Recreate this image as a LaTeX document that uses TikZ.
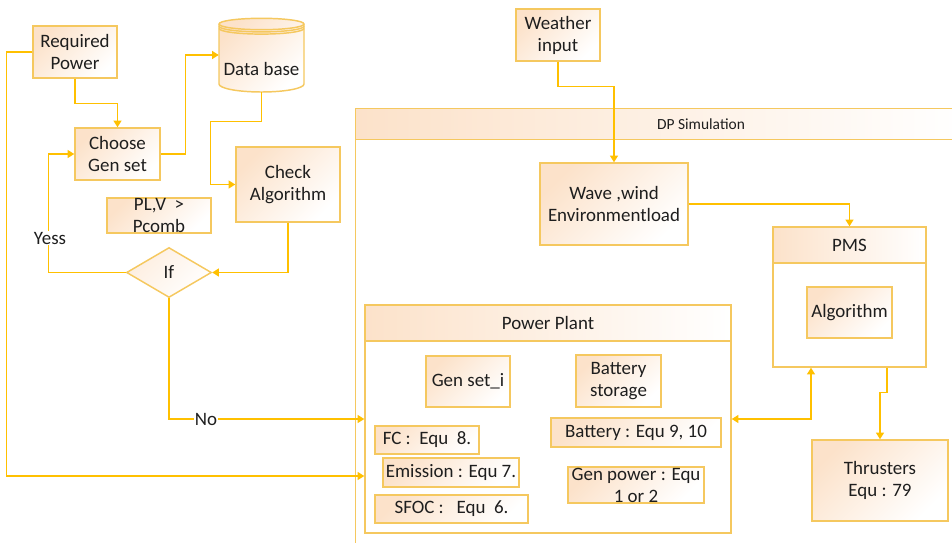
\documentclass[tikz,border=0pt]{standalone}
\usepackage{fontspec}
\setmainfont{Carlito}
\usetikzlibrary{arrows.meta,calc,shapes.geometric}

\definecolor{boxline}{RGB}{245,200,95}
\definecolor{wirecol}{RGB}{255,192,0}
\definecolor{peach}{RGB}{252,226,202}
\definecolor{ink}{RGB}{30,30,30}
\newcommand\dpfont{\fontsize{14.2}{16.5}\selectfont}
\newcommand\dpsmall{\fontsize{11.6}{13}\selectfont}

\tikzset{
  sz/.style 2 args={minimum width=#1*0.75pt, minimum height=#2*0.75pt},
  block/.style={draw=boxline, line width=1.1pt, top color=peach, bottom color=white, shading angle=45, inner sep=1pt, align=center, text=ink, font=\dpfont},
  frame/.style={draw=boxline, line width=1.1pt, fill=white, inner sep=0pt},
  head/.style={draw=boxline, line width=1.1pt, left color=peach, right color=white, inner sep=0pt, text=ink, font=\dpfont},
  wire/.style={draw=wirecol, line width=1pt, -{Triangle[width=6pt,length=5pt]}},
  tag/.style={fill=white, inner sep=1pt, text=ink, font=\dpfont},
}

\begin{document}
\begin{tikzpicture}[x=0.75pt,y=0.75pt,yscale=-1,xscale=1]
\useasboundingbox (0,0) rectangle (952,542);
\clip (0,0) rectangle (952,542);

%Shape: DP Simulation frame
\node[frame, sz={610}{452}, anchor=north west] (dp) at (355,108) {};
\node[head, sz={610}{31}, anchor=north west] (dphead) at (355,108) {};
\node[text=ink, font=\dpsmall] (dplabel) at (701,124) {DP Simulation};

%Shape: Power Plant frame
\node[frame, sz={366}{228}] (pp) at (548,419) {};
\node[head, sz={366}{36}, anchor=north] (pphead) at (pp.north) {Power Plant};

%Shape: PMS frame
\node[frame, sz={153}{140}] (pms) at (849.5,297) {};
\node[head, sz={153}{36}, anchor=north] (pmshead) at (pms.north) {PMS};

%Shape: Can
\draw[boxline, line width=1.1pt, top color=peach, bottom color=white, shading angle=45] (219,24) -- (219,84) arc[start angle=180, end angle=0, x radius=42.5, y radius=8] -- (304,24) arc[start angle=0, end angle=-180, x radius=42.5, y radius=5.7] -- cycle;
\foreach \dy in {0,2.2,4.4}
  \draw[boxline, line width=1.1pt] (219,24+\dy) arc[start angle=180, end angle=0, x radius=42.5, y radius=5.7];
\node[sz={85}{74}, inner sep=0pt] (db) at (261.5,55) {};
% Text Node
\node[text=ink, font=\dpfont] (dbtext) at (261.5,69) {Data base};

% Left flow chart
\node[block, sz={84}{52}] (req) at (75,52) {Required\\Power};
\node[block, sz={85}{52}] (choose) at (117.5,154) {Choose\\Gen set};
\node[block, sz={104}{75}] (check) at (288,184.5) {Check\\Algorithm};
\node[block, sz={104}{35}] (pl) at (159,215.5) {};
\node[text=ink, font=\dpfont, align=center] (pltext) at (pl) {PL,V\ \ >\\Pcomb};
\node[diamond, draw=boxline, line width=1.1pt, top color=peach!60, bottom color=white, shading angle=45, sz={85}{50}, inner sep=0pt, text=ink, font=\dpfont] (ifn) at (169,272.5) {If};

% DP side
\node[block, sz={84}{52}] (weather) at (558,35) {Weather\\input};
\node[block, sz={148}{82}] (wave) at (614,204) {Wave ,wind\\Environmentload};
\node[block, sz={85}{51}] (alg) at (849.5,312.5) {Algorithm};
\node[block, sz={136}{81}] (thr) at (880,480.5) {Thrusters\\Equ : 79};

% Power Plant content
\node[block, sz={84}{51}] (gen) at (468,381.5) {Gen set\_i};
\node[block, sz={85}{52}] (bst) at (618.5,381) {Battery\\storage};
\node[block, sz={104}{28}] (fc) at (427,440) {FC :\ \ Equ\ \ 8.};
\node[block, sz={136}{29}] (em) at (451,472.5) {Emission : Equ 7.};
\node[block, sz={153}{28}] (sfoc) at (451.5,509) {SFOC :\ \ \ Equ\ \ 6.};
\node[block, sz={170}{29}] (bat) at (636,432.5) {Battery : Equ 9, 10};
\node[block, sz={136}{36}] (genp) at (636,485) {};
\node[text=ink, font=\dpfont, align=center] (genptext) at (genp) {Gen power : Equ\\1 or 2};

% Connectors
\draw[wire] (req.south) -- ++(0,25) -| (choose.north);
\draw[wire] (req.west) -- ++(-26,0) |- ($(pp.west)+(0,57)$);
\draw[wire] (choose.east) -- ++(25,0) |- (db.west);
\draw[wire] (db.south) -- ++(0,29) -| ($(check.west)+(-25,0)$) -- (check.west);
\draw[wire] (check.south) |- (ifn.east);
\draw[wire] (ifn.west) -- ++(-77,0) |- (choose.west);
\draw[wire] (ifn.south) |- (pp.west);
\draw[wire] (weather.south) -- ++(0,25) -| (wave.north);
\draw[wire] (wave.east) -| (pms.north);
\draw[wire] ($(pms.south)+(37.5,0)$) -- ++(0,25) -| (thr.north);
\draw[wire, {Triangle[width=6pt,length=5pt]}-{Triangle[width=6pt,length=5pt]}] (pp.east) -| ($(pms.south)+(-38.5,0)$);

% Text Node
\node[tag] (yess) at (50,238) {Yess};
% Text Node
\node[tag] (no) at (206,419) {No};

\end{tikzpicture}
\end{document}
